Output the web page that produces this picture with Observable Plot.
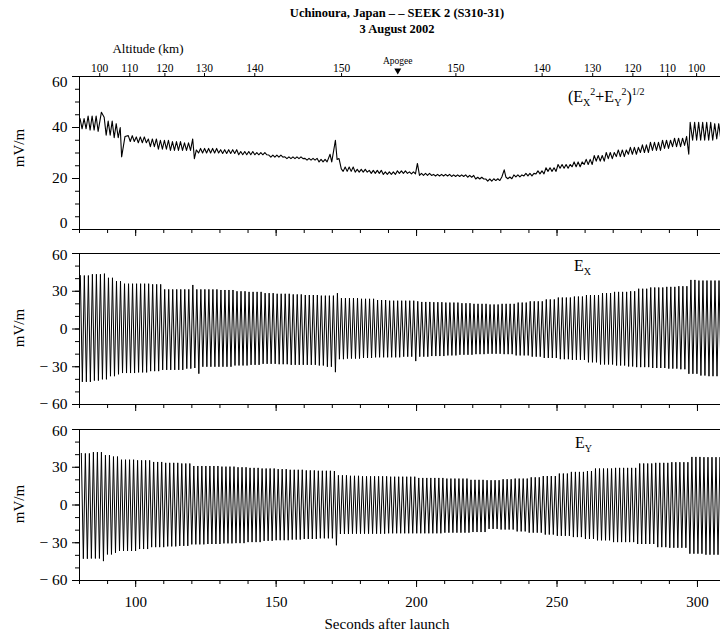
<!DOCTYPE html>
<html><head><meta charset="utf-8">
<script src="https://cdn.jsdelivr.net/npm/d3@7"></script>
<script src="https://cdn.jsdelivr.net/npm/@observablehq/plot@0.6"></script>
<style>
body{margin:0;background:#fff;}
#wrap{position:relative;width:720px;height:636px;overflow:hidden;background:#fff;font-family:"Liberation Serif","Times New Roman",serif;color:#000;}
#wrap svg{position:absolute;left:0;}
.lbl{position:absolute;white-space:nowrap;line-height:1;transform:translate(-50%,-50%);}
.rot{position:absolute;white-space:nowrap;line-height:1;transform:translate(-50%,-50%) rotate(-90deg);font-size:15px;}
.ann{position:absolute;white-space:nowrap;line-height:1;font-size:16px;}
.ann sub{font-size:10px;vertical-align:-4px;line-height:0;}
.ann sup{font-size:10px;vertical-align:7px;line-height:0;}
</style></head><body><div id="wrap"></div>
<script>
// ---- values ----
const spinPeriod = 1.43; // s, spacing of successive peaks
const xTickMajor = [100, 150, 200, 250, 300];
const xTickMinor = [80, 90, 100, 110, 120, 130, 140, 150, 160, 170, 180, 190, 200, 210, 220, 230, 240, 250, 260, 270, 280, 290, 300];
const altTimes  = [87.2, 97.9, 110.4, 124.5, 142.4, 173.3, 214.0, 244.7, 262.7, 277.0, 289.4, 299.7];
const altLabels = ["100","110","120","130","140","150","150","140","130","120","110","100"];
const apogeeTime = 193.3;

// top panel (E_X^2+E_Y^2)^1/2 : ripple band low/high at knot times
const magT  = [80, 83, 86, 89, 92, 94, 96.5, 100, 104, 108, 112, 116, 119, 122, 130, 136, 142, 147, 153, 160, 165, 173.8, 178, 183, 188, 193, 197, 201, 206, 212, 218, 221, 224, 227, 230, 234, 238, 242, 246, 250, 255, 259, 263, 267, 271, 275, 279, 283, 287, 291, 295, 297.8, 302, 306];
const magLo = [39.5, 39, 38.5, 37, 36, 35.5, 34.5, 34, 32.5, 31.5, 31, 31, 31, 30, 29.8, 29.3, 29.3, 28.4, 27.8, 27.2, 26.5, 22.8, 22.5, 22, 21.6, 22, 21.8, 21.2, 21, 20.8, 20.5, 19.8, 19, 19.2, 19.9, 20.6, 21, 21.8, 22.8, 24, 24.6, 25.5, 26.8, 27.8, 28.6, 29.5, 30.2, 31, 31.8, 32.5, 33, 35, 35, 35.5];
const magHi = [43.5, 44.5, 44, 42.5, 41.5, 40, 36.8, 36.3, 35.5, 35, 34.5, 34, 33.5, 31.8, 31.3, 30.6, 30.2, 29.2, 28.5, 27.9, 27.5, 24.5, 23.6, 23.2, 22.6, 23, 22.6, 22, 21.6, 21.4, 21.2, 20.5, 19.8, 19.9, 20.6, 21.4, 22, 23, 24.2, 25.5, 26.5, 27.5, 29, 30.2, 31.2, 32.2, 33.2, 34.2, 35, 35.8, 36.5, 42, 42, 41.5];
const magSpikeT = [87.8, 95.0, 96.2, 120.3, 120.9, 121.6, 169.2, 169.8, 170.5, 171.1, 171.7, 172.4, 173.2, 200.3, 231.2, 296.9, 297.4];
const magSpikeV = [46, 28.5, 36.5, 35.5, 27.8, 31.2, 29.5, 26.5, 31, 35, 27.5, 27.8, 23.8, 25.9, 23.4, 29.5, 42];

// middle panel E_X : peak (hi) and trough (lo) envelope at knot times
const exT  = [80, 84, 88, 90, 93, 95, 100, 105, 109, 117, 120, 121.5, 123, 130, 135, 140, 145, 150, 155, 160, 165, 168, 171, 172.5, 175, 180, 185, 190, 195, 199.5, 201, 205, 210, 215, 220, 225, 230, 235, 240, 245, 250, 255, 260, 265, 270, 275, 278, 283, 289, 293, 296.5, 300, 304];
const exHi = [42.5, 43.5, 44, 40.7, 38, 36, 36, 35.5, 31.5, 31.5, 35, 31.5, 31.5, 31, 30, 29.5, 28.5, 28, 27.5, 27, 26.5, 26.5, 28.5, 24.5, 24.5, 24, 23, 22.5, 22.5, 22, 21.5, 21.3, 21, 20.5, 20, 19.5, 20, 21, 22, 23.5, 25, 25.8, 27, 28.5, 29.5, 30, 32, 33, 33.5, 34, 39, 38.5, 38.5];
const exLo = [-42, -41, -40, -37.5, -36, -35, -34.5, -33.5, -32.5, -31.5, -31, -35.5, -30, -30, -29, -28.5, -27.7, -28, -28.5, -28.5, -29, -30, -34.3, -24, -23.5, -23, -22.5, -22.5, -22, -25.5, -22, -21.5, -21, -20.5, -20, -19.7, -20, -21, -22, -23, -24, -24.5, -26.5, -28.2, -29, -29.8, -30.3, -31, -31.5, -32, -35.6, -37, -37.5];

// bottom panel E_Y
const eyT  = [80, 84, 88, 89.2, 92, 94, 100, 105, 110, 115, 119.5, 125, 130, 135, 140, 145, 150, 155, 160, 165, 170.3, 171.8, 176, 180, 190, 200, 210, 219, 225, 230, 235, 240, 245, 250, 255, 260, 263, 270, 278.5, 285, 290, 296.8, 302];
const eyHi = [41, 42, 41.5, 39.6, 38.5, 36, 35.5, 34.2, 33.5, 33, 31, 31, 30.5, 30, 29.5, 29, 28.5, 28, 27.5, 27.2, 27, 23.6, 23.2, 22.8, 22.5, 21.5, 21, 20, 19.7, 20.5, 21, 22, 23, 25, 26.3, 27, 29, 29.5, 33, 33.5, 34, 38.2, 38];
const eyLo = [-42.7, -42.5, -44.6, -39.3, -38, -36.5, -35, -33.5, -32.9, -32.5, -31.3, -31, -30.5, -30.3, -29.5, -28.5, -28, -27.5, -27, -26.5, -32, -23, -22.8, -22.8, -22.5, -22.5, -22, -21.5, -19, -19.5, -21, -22, -23.5, -24.5, -25.5, -27, -28.1, -29.5, -31, -33.5, -34, -38.7, -39.5];

const yTop = [0, 20, 40, 60];
const yTopMinor = [0, 5, 10, 15, 20, 25, 30, 35, 40, 45, 50, 55, 60];
const yE = [-60, -30, 0, 30, 60];
const yEMinor = [-60, -50, -40, -30, -20, -10, 0, 10, 20, 30, 40, 50, 60];

// ---- build ----
const xDomain = [80, 308.2];
const font = "Liberation Serif, Times New Roman, serif";

// alternate between the read peak (hi) and trough (lo) of the current knot, once per half spin
function zigzag(T, hi, lo, phase) {
  const pts = [];
  const half = spinPeriod / 2;
  let k = 0;
  for (let t = T[0] + phase; t <= xDomain[1] + half; t += half, k++) {
    const i = Math.max(0, d3.bisectRight(T, t) - 1);
    pts.push({t, v: k % 2 === 0 ? hi[i] : lo[i]});
  }
  return pts;
}

const magPts = zigzag(magT, magHi, magLo, 0.2)
  .filter(p => !magSpikeT.some(s => Math.abs(s - p.t) < 0.45))
  .concat(magSpikeT.map((t, i) => ({t, v: magSpikeV[i]})))
  .sort((a, b) => a.t - b.t);
const exPts = zigzag(exT, exHi, exLo, 0.3);
const eyPts = zigzag(eyT, eyHi, eyLo, 0.3 + spinPeriod / 4);

const fmt = d => d < 0 ? "\u2212 " + (-d) : String(d);

function yLabels(vals, dy) {
  return Plot.text(vals, {y: d => d, frameAnchor: "left", textAnchor: "end", dx: -12, dy, text: fmt, fontSize: 15.5, fontFamily: font, fill: "black"});
}
function xTicks() {
  return [
    Plot.axisX(xTickMinor, {tickSize: 4, fill: "none", label: null, stroke: "black"}),
    Plot.axisX(xTickMajor, {tickSize: 7, fill: "none", label: null, stroke: "black"})
  ];
}
function frame(yTopVal, yBotVal) {
  return [
    Plot.ruleY([yTopVal, yBotVal], {stroke: "black", strokeWidth: 1}),
    Plot.ruleX([xDomain[0]], {stroke: "black", strokeWidth: 1})
  ];
}
function panel({height, marginTop, marginBottom, yDomain, marks}) {
  return Plot.plot({
    width: 720, height, marginLeft: 79, marginRight: 0, marginTop, marginBottom,
    x: {domain: xDomain, axis: null}, y: {domain: yDomain, axis: null},
    style: {fontFamily: font, background: "transparent", color: "black", overflow: "visible"},
    marks
  });
}

const p1 = panel({
  height: 238, marginTop: 76, marginBottom: 9, yDomain: [0, 60],
  marks: [
    Plot.line(magPts, {x: "t", y: "v", stroke: "black", strokeWidth: 1.1, clip: true}),
    ...frame(60, 0),
    Plot.axisY(yTopMinor, {tickSize: 4, fill: "none", label: null, stroke: "black"}),
    Plot.axisY(yTop, {tickSize: 7, fill: "none", label: null, stroke: "black"}),
    yLabels([20, 40], 0), yLabels([60], 6), yLabels([0], -6),
    ...xTicks(),
    Plot.axisX(altTimes, {anchor: "top", tickSize: 4, fill: "none", label: null, stroke: "black"}),
    Plot.text(altTimes, {x: d => d, frameAnchor: "top", dy: -13, text: (d, i) => altLabels[i], fontSize: 11.5, fontFamily: font, fill: "black"}),
    Plot.text([apogeeTime], {x: d => d, frameAnchor: "top", dy: -19, text: () => "Apogee", fontSize: 9.5, fontFamily: font, fill: "black"}),
    Plot.dot([apogeeTime], {x: d => d, frameAnchor: "top", dy: -6, symbol: "triangle", rotate: 180, r: 2.6, fill: "black", stroke: "none"})
  ]
});
const p2 = panel({
  height: 176, marginTop: 15, marginBottom: 10, yDomain: [-60, 60],
  marks: [
    Plot.line(exPts, {x: "t", y: "v", stroke: "black", strokeWidth: 1, clip: true}),
    ...frame(60, -60),
    Plot.axisY(yEMinor, {tickSize: 4, fill: "none", label: null, stroke: "black"}),
    Plot.axisY(yE, {tickSize: 7, fill: "none", label: null, stroke: "black"}),
    yLabels([-60, -30, 0, 30], 0), yLabels([60], 2),
    ...xTicks()
  ]
});
const p3 = panel({
  height: 222, marginTop: 15, marginBottom: 56, yDomain: [-60, 60],
  marks: [
    Plot.line(eyPts, {x: "t", y: "v", stroke: "black", strokeWidth: 1, clip: true}),
    ...frame(60, -60),
    Plot.axisY(yEMinor, {tickSize: 4, fill: "none", label: null, stroke: "black"}),
    Plot.axisY(yE, {tickSize: 7, fill: "none", label: null, stroke: "black"}),
    yLabels([-60, -30, 0, 30], 0), yLabels([60], 2),
    ...xTicks(),
    Plot.text(xTickMajor, {x: d => d, frameAnchor: "bottom", lineAnchor: "top", dy: 16, text: d => String(d), fontSize: 15, fontFamily: font, fill: "black"})
  ]
});

const wrap = document.getElementById("wrap");
p1.style.top = "0px"; p2.style.top = "238px"; p3.style.top = "414px";
wrap.append(p1, p2, p3);

const overlay = `
<div class="lbl" style="left:397px;top:13px;font-size:12.5px;font-weight:bold">Uchinoura, Japan – – SEEK 2 (S310-31)</div>
<div class="lbl" style="left:397px;top:29px;font-size:12.5px;font-weight:bold">3 August 2002</div>
<div class="lbl" style="left:148px;top:48px;font-size:13px">Altitude (km)</div>
<div class="rot" style="left:19px;top:148px">mV/m</div>
<div class="rot" style="left:19px;top:328px">mV/m</div>
<div class="rot" style="left:19px;top:504px">mV/m</div>
<div class="lbl" style="left:387px;top:624px;font-size:15px">Seconds after launch</div>
<div class="ann" style="left:568px;top:89px">(E<sub>X</sub><sup>2</sup>+E<sub>Y</sub><sup>2</sup>)<sup>1/2</sup></div>
<div class="ann" style="left:574px;top:258px">E<sub>X</sub></div>
<div class="ann" style="left:575px;top:435px">E<sub>Y</sub></div>`;
wrap.insertAdjacentHTML("beforeend", overlay);
</script></body></html>
